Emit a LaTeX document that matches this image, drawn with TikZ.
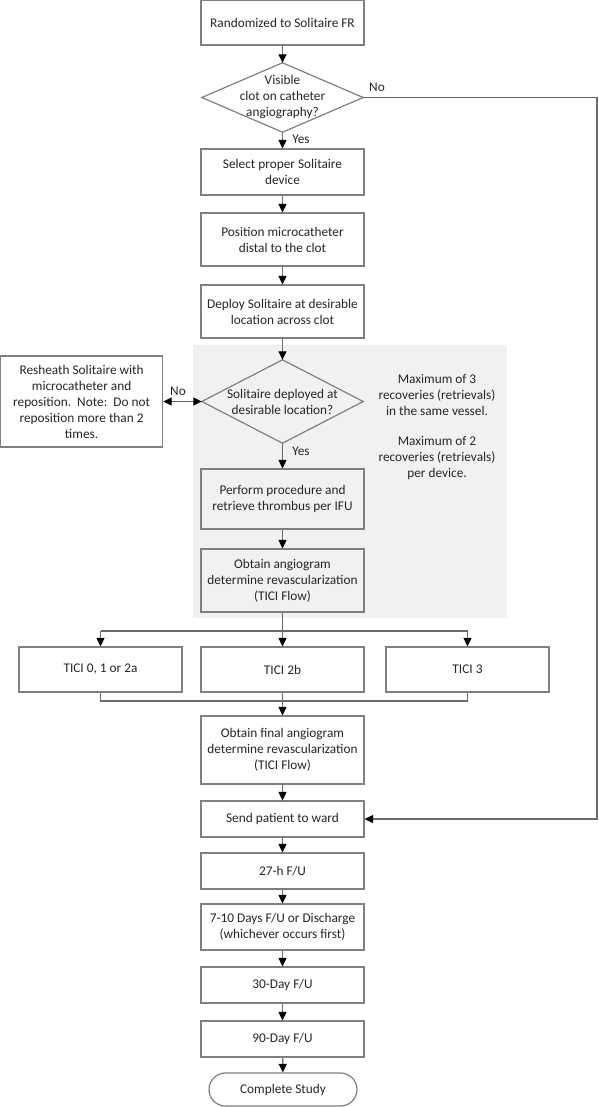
\documentclass[tikz,border=0pt]{standalone}
\usepackage{fontspec}
\setmainfont{Carlito}
\usetikzlibrary{arrows.meta,shapes.misc}
\pgfdeclarelayer{background}
\pgfsetlayers{background,main}
\definecolor{bordergray}{HTML}{7F7F7F}
\definecolor{linegray}{HTML}{6A6A6A}
\definecolor{txtgray}{HTML}{262626}
\definecolor{panelgray}{HTML}{F1F1F1}
\tikzset{
  fnt/.style={font=\fontsize{13.3}{16}\selectfont},
  box/.style={draw=bordergray, line width=1.2pt, fill=white, minimum width=163pt,
    inner sep=0pt, align=center, text=txtgray, fnt},
  greybox/.style={box, fill=panelgray},
  decision/.style={inner sep=0pt, align=center, text=txtgray, minimum width=161pt, fnt},
  diamondline/.style={draw=bordergray, line width=1.2pt},
  tip/.style={Triangle[width=8pt,length=8.5pt,color=black]},
  conn/.style={draw=linegray, line width=1.1pt, -{Triangle[width=8pt,length=8.5pt,color=black]}},
  plain/.style={draw=linegray, line width=1.1pt},
  lbl/.style={text=txtgray, fnt, inner sep=0pt},
  note/.style={text=txtgray, fnt, align=center, inner sep=0pt},
  term/.style={box, rounded rectangle, minimum width=148pt}
}
\begin{document}
\begin{tikzpicture}[x=1pt,y=-1pt]
\useasboundingbox (0,0) rectangle (598,1107);

\node[box, minimum height=45pt] (rand) at (282.5,22.5) {Randomized to Solitaire FR};
\node[decision, minimum height=69pt] (d1) at (282.5,97.5) {Visible\\clot on catheter\\angiography?};
\node[box, minimum height=46pt] (select) at (282.5,172) {Select proper Solitaire\\device};
\node[box, minimum height=53pt] (pos) at (282.5,239.5) {Position microcatheter\\distal to the clot};
\node[box, minimum height=53pt] (deploy) at (282.5,311.5) {Deploy Solitaire at desirable\\location across clot};

\node[decision, minimum height=83pt] (d2) at (282.5,401.5) {Solitaire deployed at\\desirable location?};

\node[box, minimum width=162pt, minimum height=91pt] (resheath) at (81.6,401.5)
  {Resheath Solitaire with\\microcatheter and\\reposition.\ \ Note:\ \ Do not\\reposition more than 2\\times.};
\node[note] (n1) at (437,395) {Maximum of 3\\recoveries (retrievals)\\in the same vessel.};
\node[note] (n2) at (437,458) {Maximum of 2\\recoveries (retrievals)\\per device.};

\node[greybox, minimum height=60pt] (perform) at (282.5,499) {Perform procedure and\\retrieve thrombus per IFU};
\node[greybox, minimum height=63pt] (obtain) at (282.5,580.5) {Obtain angiogram\\determine revascularization\\(TICI Flow)};

\node[box, minimum height=45pt] (t0) at (100.5,669.5) {TICI 0, 1 or 2a};
\node[box, minimum height=45pt] (t2b) at (282.5,669.5) {TICI 2b};
\node[box, minimum height=45pt] (t3) at (467.5,669.5) {TICI 3};

\node[box, minimum height=68pt] (final) at (282.5,750) {Obtain final angiogram\\determine revascularization\\(TICI Flow)};
\node[box, minimum height=36pt] (send) at (282.5,819) {Send patient to ward};
\node[box, minimum height=36pt] (h27) at (282.5,871) {27-h F/U};
\node[box, minimum height=46pt] (d710) at (282.5,927) {7-10 Days F/U or Discharge\\(whichever occurs first)};
\node[box, minimum height=36pt] (d30) at (282.5,985) {30-Day F/U};
\node[box, minimum height=36pt] (d90) at (282.5,1039) {90-Day F/U};
\node[term, minimum height=33pt] (done) at (283,1089.5) {Complete Study};

% background: grey panel and diamond outlines
\begin{pgfonlayer}{background}
  \fill[panelgray] (193,345) rectangle (507,618);
  \draw[diamondline, fill=white] (d1.north) -- (d1.east) -- (d1.south) -- (d1.west) -- cycle;
  \draw[diamondline, fill=panelgray] (d2.north) -- (d2.east) -- (d2.south) -- (d2.west) -- cycle;
\end{pgfonlayer}

% coordinates
\coordinate (rt) at (597,97.5);
\coordinate (rb) at (597,819);
\coordinate (bl) at (100.5,631);
\coordinate (br) at (467.5,631);
\coordinate (ml) at (100.5,701);
\coordinate (mr) at (467.5,701);

% connectors
\draw[conn] (rand) -- (d1.north);
\draw[conn] (d1.south) -- (select);
\node[lbl] (yes1) at (301,139.5) {Yes};
\draw[conn] (d1.east) -- (rt) -- (rb) -- (send.east);
\node[lbl] (no1) at (377,87) {No};
\draw[conn] (select) -- (pos);
\draw[conn] (pos) -- (deploy);
\draw[conn] (deploy) -- (d2.north);
\draw[draw=linegray, line width=1.1pt, {Triangle[width=8pt,length=8.5pt,color=black]}-{Triangle[width=8pt,length=8.5pt,color=black]}] (resheath.east) -- (d2.west);
\node[lbl] (no2) at (178,391) {No};
\draw[conn] (d2.south) -- (perform);
\node[lbl] (yes2) at (301,451) {Yes};
\draw[conn] (perform) -- (obtain);
\draw[conn] (obtain) -- (t2b);
\draw[plain] (bl) -- (br);
\draw[conn] (bl) -- (t0);
\draw[conn] (br) -- (t3);
\draw[plain] (t0) -- (ml) -- (mr) -- (t3);
\draw[conn] (t2b) -- (final);
\draw[conn] (final) -- (send);
\draw[conn] (send) -- (h27);
\draw[conn] (h27) -- (d710);
\draw[conn] (d710) -- (d30);
\draw[conn] (d30) -- (d90);
\draw[conn] (d90) -- (done);
\end{tikzpicture}
\end{document}
